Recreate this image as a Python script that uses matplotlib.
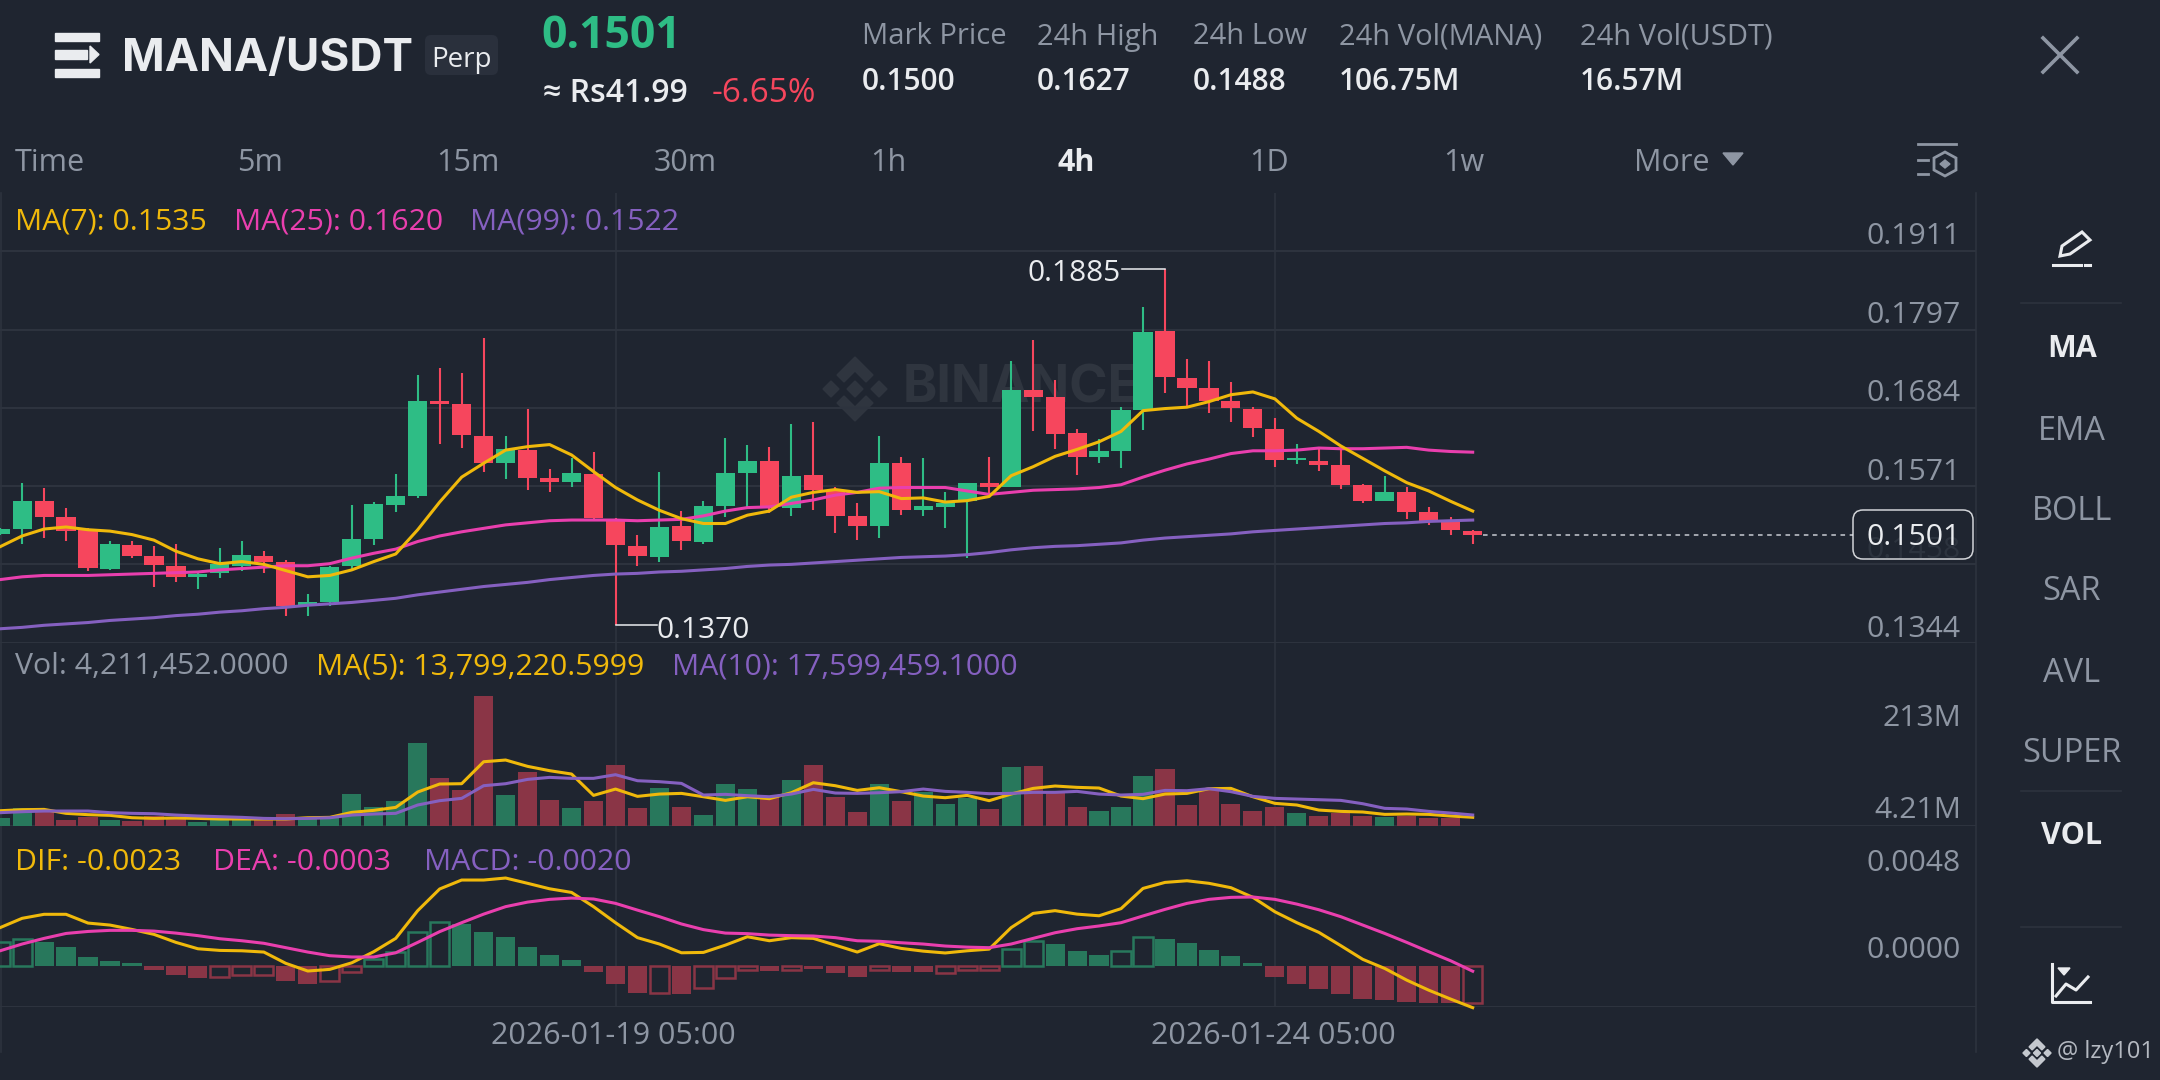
#!/usr/bin/env python3
"""MANA/USDT perp 4h chart screen: candles, volume and MACD panels."""

import matplotlib
matplotlib.use("Agg")
import matplotlib.pyplot as plt
from matplotlib.patches import FancyBboxPatch, Polygon, Rectangle

plt.rcParams["font.family"] = ["Open Sans", "Noto Sans", "DejaVu Sans"]

# ── Data ─────────────────────────────────────────────────────────────────────

opens = [
    .1502, .1509, .1549, .1526, .1508, .1452, .1486, .1470, .1455, .1440, .1446, .1456, .1470, .1462, .1398, .1404, .1455,
    .1495, .1544, .1557, .1694, .1689, .1643, .1604, .1623, .1582, .1577, .1589, .1524, .1485, .1469, .1513, .1491, .1542,
    .1590, .1607, .1540, .1587, .1565, .1528, .1513, .1604, .1536, .1541, .1549, .1575, .1570, .1710, .1699, .1647, .1613,
    .1621, .1681, .1795, .1727, .1712, .1694, .1682, .1653, .1608, .1607, .1602, .1573, .1550, .1562, .1533, .1520, .1506,
]
closes = [
    .1509, .1549, .1526, .1506, .1453, .1487, .1470, .1457, .1440, .1444, .1459, .1472, .1462, .1398, .1404, .1454, .1494,
    .1545, .1557, .1694, .1689, .1645, .1604, .1624, .1583, .1577, .1590, .1525, .1486, .1470, .1512, .1492, .1542, .1590,
    .1607, .1542, .1586, .1565, .1528, .1513, .1605, .1536, .1542, .1547, .1575, .1570, .1710, .1700, .1646, .1613, .1622,
    .1681, .1794, .1728, .1712, .1694, .1684, .1655, .1608, .1611, .1601, .1573, .1549, .1562, .1533, .1520, .1507, .1501,
]
highs = [
    .1510, .1575, .1568, .1539, .1510, .1492, .1492, .1484, .1487, .1445, .1481, .1492, .1477, .1465, .1415, .1456, .1544,
    .1548, .1589, .1732, .1741, .1734, .1785, .1643, .1682, .1595, .1612, .1620, .1525, .1500, .1591, .1535, .1549, .1641,
    .1630, .1627, .1661, .1664, .1570, .1547, .1643, .1613, .1611, .1562, .1576, .1613, .1751, .1782, .1724, .1654, .1639,
    .1685, .1830, .1885, .1755, .1752, .1722, .1685, .1669, .1632, .1628, .1626, .1574, .1585, .1569, .1541, .1526, .1508,
]
lows = [
    .1500, .1488, .1496, .1492, .1448, .1450, .1467, .1426, .1432, .1422, .1439, .1449, .1446, .1384, .1384, .1398, .1452,
    .1486, .1534, .1554, .1632, .1626, .1592, .1581, .1566, .1562, .1570, .1523, .1370, .1456, .1461, .1479, .1488, .1527,
    .1540, .1532, .1528, .1537, .1504, .1493, .1496, .1529, .1528, .1510, .1467, .1556, .1569, .1651, .1625, .1587, .1604,
    .1597, .1652, .1705, .1687, .1677, .1664, .1642, .1599, .1603, .1593, .1567, .1547, .1549, .1524, .1515, .1501, .1487,
]
ma7 = [
    .14835, .1499, .1509, .1512, .1508, .1506, .1501, .1493, .1477, .1466, .1459, .1462, .1458, .1449, .1440, .1442, .1450,
    .1462, .1473, .1508, .1548, .1584, .1604, .1623, .1628, .1631, .1616, .1592, .1569, .1551, .1536, .1524, .1517, .1517,
    .1529, .1535, .1555, .1562, .1566, .1562, .1563, .1553, .1554, .1548, .1550, .1556, .1586, .1599, .1614, .1624, .1635,
    .1650, .1680, .1683, .1685, .1693, .1703, .1707, .1697, .1669, .1650, .1629, .1611, .1593, .1576, .1564, .1549, .1535,
]
ma25 = [
    .1436, .1440, .1442, .1442, .1442, .1443, .1444, .1445, .1446, .1447, .1450, .1452, .1454, .1456, .1456, .1459, .1467,
    .1474, .1480, .1491, .1499, .1505, .1510, .1515, .1518, .1521, .1522, .1522, .1522, .1521, .1522, .1523, .1528, .1535,
    .1540, .1541, .1546, .1551, .1558, .1562, .1568, .1569, .1569, .1569, .1564, .1559, .1562, .1565, .1566, .1567, .1569,
    .1573, .1584, .1594, .1603, .1610, .1618, .1622, .1622, .1623, .1626, .1625, .1625, .1626, .1627, .1623, .1621, .1620,
]
ma99 = [
    .1365, .1367, .1370, .1372, .1374, .1377, .1379, .1381, .1384, .1386, .1389, .1391, .1394, .1396, .1399, .1401, .1403,
    .1406, .1409, .1414, .1418, .1422, .1426, .1429, .1432, .1436, .1439, .1442, .1444, .1445, .1447, .1448, .1450, .1452,
    .1455, .1457, .1458, .1460, .1462, .1464, .1466, .1468, .1469, .1470, .1472, .1475, .1479, .1482, .1484, .1485, .1487,
    .1489, .1493, .1496, .1498, .1500, .1502, .1505, .1507, .1509, .1511, .1513, .1515, .1517, .1518, .1520, .1521, .1522,
]

# volumes in millions; the newest candle has no visible bar
volumes = [
    13.1, 29.6, 23.0, 9.9, 14.8, 9.3, 7.7, 15.9, 13.1, 6.0, 12.0, 12.0, 12.0, 19.2, 13.7, 13.1, 52.6,
    30.1, 41.1, 135.8, 78.9, 58.6, 213.0, 49.8, 88.2, 42.2, 29.0, 41.1, 99.1, 29.6, 61.9, 30.7, 18.1, 69.0,
    60.2, 46.5, 74.5, 99.1, 47.6, 22.5, 68.5, 40.5, 54.8, 36.1, 44.9, 27.4, 96.4, 97.5, 54.2, 30.7, 23.5,
    30.7, 81.0, 92.5, 34.0, 58.6, 35.6, 23.5, 30.7, 20.8, 15.9, 21.4, 15.3, 14.2, 16.4, 13.1, 13.1, 0.0,
]
vol_ma5 = [
    24.6, 26.3, 26.8, 20.3, 18.1, 17.0, 13.1, 12.0, 12.6, 12.0, 11.0, 11.0, 11.0, 11.0, 13.1, 13.7, 21.9,
    25.2, 30.1, 55.3, 68.5, 69.0, 105.1, 107.9, 97.5, 90.4, 84.9, 49.8, 60.2, 48.2, 52.0, 53.1, 47.6, 41.6,
    47.6, 44.4, 54.2, 70.6, 65.7, 58.0, 62.4, 55.9, 48.7, 46.0, 49.8, 41.1, 52.0, 61.3, 65.2, 63.0, 61.9,
    48.7, 44.4, 52.0, 53.1, 60.8, 61.3, 47.6, 36.7, 34.0, 25.7, 23.5, 22.5, 18.6, 19.2, 18.6, 15.9, 13.8,
]
vol_ma10 = [
    21.4, 23.0, 24.1, 24.1, 24.1, 21.4, 20.3, 19.7, 17.5, 15.9, 14.8, 13.7, 12.0, 11.5, 12.0, 13.1, 17.5,
    19.2, 20.3, 34.0, 41.1, 44.9, 65.7, 69.0, 76.1, 79.4, 77.8, 77.8, 83.8, 73.9, 72.3, 69.5, 50.4, 51.5,
    49.3, 47.6, 52.0, 59.7, 53.7, 53.1, 54.2, 55.9, 60.2, 56.4, 54.8, 52.6, 53.1, 54.8, 54.8, 56.4, 52.0,
    50.4, 51.5, 58.0, 57.5, 60.8, 55.9, 48.2, 44.9, 43.8, 42.7, 41.6, 36.1, 28.5, 27.4, 23.5, 20.8, 17.6,
]

macd_hist = [
    .00128, .00146, .00132, .00104, .00048, .00027, .00015, -.00026, -.00051, -.00066, -.00064, -.00051, -.00049,
    -.00084, -.00101, -.00082, -.00037, .00037, .00077, .00187, .00240, .00230, .00185, .00157, .00102, .00059, .00031,
    -.00033, -.00099, -.00150, -.00148, -.00155, -.00124, -.00070, -.00024, -.00031, -.00024, -.00018, -.00038, -.00062,
    -.00024, -.00033, -.00037, -.00042, -.00024, -.00022, .00090, .00134, .00117, .00080, .00057, .00079, .00155, .00146,
    .00123, .00086, .00051, .00015, -.00060, -.00099, -.00126, -.00155, -.00185, -.00188, -.00199, -.00205, -.00207, -.00203,
]
macd_hollow = [0, 1, 10, 11, 12, 15, 16, 17, 18, 19, 20, 30, 32, 33, 34, 36, 40, 43, 44, 45, 46, 47, 51, 52, 67]
dif = [
    .00209, .00260, .00282, .00282, .00234, .00223, .00199, .00172, .00128, .00093, .00084, .00082, .00075, .00013,
    -.00029, -.00020, .00016, .00077, .00150, .00302, .00421, .00470, .00470, .00481, .00452, .00422, .00402, .00324,
    .00236, .00154, .00119, .00071, .00073, .00113, .00159, .00137, .00154, .00150, .00113, .00075, .00121, .00095,
    .00080, .00070, .00082, .00091, .00209, .00287, .00302, .00283, .00274, .00313, .00424, .00457, .00466, .00452,
    .00428, .00375, .00296, .00236, .00183, .00110, .00035, -.00015, -.00079, -.00134, -.00183, -.00230,
]
dea = [
    .00082, .00119, .00150, .00177, .00188, .00194, .00194, .00190, .00179, .00165, .00148, .00137, .00123, .00099,
    .00075, .00055, .00048, .00048, .00071, .00128, .00187, .00236, .00283, .00324, .00349, .00364, .00371, .00366,
    .00342, .00305, .00269, .00229, .00198, .00179, .00176, .00168, .00165, .00163, .00154, .00137, .00134, .00126,
    .00119, .00108, .00102, .00099, .00119, .00150, .00181, .00203, .00218, .00236, .00273, .00309, .00342, .00364,
    .00375, .00377, .00364, .00338, .00307, .00269, .00223, .00177, .00128, .00077, .00027, -.00030,
]

price_ticks = [0.1911, 0.1797, 0.1684, 0.1571, 0.1458, 0.1344]
macd_ticks = [0.0048, 0.0]
date_ticks = {28: "2026-01-19 05:00", 58: "2026-01-24 05:00"}
timeframes = ["5m", "15m", "30m", "1h", "4h", "1D", "1w", "More"]
indicators = ["MA", "EMA", "BOLL", "SAR", "AVL", "SUPER", "VOL"]
stats = [
    ("Mark Price", "0.1500"), ("24h High", "0.1627"), ("24h Low", "0.1488"),
    ("24h Vol(MANA)", "106.75M"), ("24h Vol(USDT)", "16.57M"),
]
last_price = 0.1501

# ── Colours and layout ───────────────────────────────────────────────────────

BG = "#1f2530"
GRID = "#2d333e"
GREEN = "#2ebd85"
RED = "#f6465d"
DIM_GREEN = "#28785c"
DIM_RED = "#8a3546"
YELLOW = "#f0b90b"
PINK = "#e93fae"
PURPLE = "#8560c0"
GREY = "#8e96a3"
WHITE = "#eaecef"
WM = "#2f353f"

W, H = 2160, 1080
CHART_R = 1976
STEP = 21.98
BODY = 0.87
TEXT_DY = 3  # open sans sits a little high when centred

fig = plt.figure(figsize=(W / 100, H / 100), dpi=100, facecolor=BG)


def px_axes(y_top, y_bottom):
    """Axes spanning the chart width between two pixel rows."""
    ax = fig.add_axes([0, 1 - y_bottom / H, CHART_R / W, (y_bottom - y_top) / H])
    ax.set_facecolor("none")
    ax.set_xlim(-0.005, CHART_R / STEP)
    ax.axis("off")
    return ax


# Overlay in image pixels for the app chrome around the chart
ui = fig.add_axes([0, 0, 1, 1], zorder=5)
ui.set_xlim(0, W)
ui.set_ylim(H, 0)
ui.axis("off")
ui.set_facecolor("none")

back = fig.add_axes([0, 0, 1, 1], zorder=-1)
back.set_xlim(0, W)
back.set_ylim(H, 0)
back.axis("off")

ax_price = px_axes(193, 643.3)
ax_vol = px_axes(643.3, 825.7)
ax_macd = px_axes(825.7, 1007.3)
ax_price.set_ylim(0.1344, 0.19943)
ax_vol.set_ylim(0, 299.7)
ax_macd.set_ylim(-0.00228, 0.00768)


def label(x, y, s, color=GREY, size=22, ha="left", weight="normal", ax=ui, family=None):
    return ax.text(x, y + TEXT_DY, s, color=color, fontsize=size, ha=ha, va="center", fontweight=weight, family=family)


def logo(ax, cx, cy, scale, color):
    """Binance mark: centre and side diamonds plus two chevrons."""
    def shape(points):
        return Polygon([(cx + px * scale, cy + py * scale) for px, py in points], color=color)
    ax.add_patch(shape([(0, -8), (8, 0), (0, 8), (-8, 0)]))
    ax.add_patch(shape([(-24, -8), (-16, 0), (-24, 8), (-32, 0)]))
    ax.add_patch(shape([(24, -8), (32, 0), (24, 8), (16, 0)]))
    ax.add_patch(shape([(0, -32), (18, -14), (11, -7), (0, -18), (-11, -7), (-18, -14)]))
    ax.add_patch(shape([(0, 32), (18, 14), (11, 7), (0, 18), (-11, 7), (-18, 14)]))


# ── Grid ─────────────────────────────────────────────────────────────────────

for tick in price_ticks:
    ax_price.axhline(tick, color=GRID, lw=1.5, zorder=1)
ax_vol.axhline(0, color=GRID, lw=1.5, zorder=1)
ax_macd.axhline(-0.00228, color=GRID, lw=1.5, zorder=1)
for idx in date_ticks:
    for ax in (ax_price, ax_vol, ax_macd):
        ax.axvline(idx, color=GRID, lw=1.2, zorder=1)
back.plot([1, 1], [193, 1052], color=GRID, lw=1.2)
back.plot([CHART_R, CHART_R], [193, 1052], color=GRID, lw=1.2)

# Watermark sits under the candles
logo(back, 855, 389, 1, WM)
label(903, 386, "BINANCE", color=WM, size=37.5, weight="bold", ax=back, family="Inter")

# ── Candles ──────────────────────────────────────────────────────────────────

xs = list(range(len(closes)))
for i in xs:
    col = GREEN if closes[i] >= opens[i] else RED
    ax_price.vlines(i, lows[i], highs[i], color=col, lw=1.5, zorder=2)
    bottom = min(opens[i], closes[i])
    ax_price.bar(i, abs(closes[i] - opens[i]), BODY, bottom=bottom, color=col, zorder=3)

ax_price.plot(xs, ma99, color=PURPLE, lw=2.2, zorder=4)
ax_price.plot(xs, ma25, color=PINK, lw=2.2, zorder=4)
ax_price.plot(xs, ma7, color=YELLOW, lw=2.2, zorder=4)

# High / low callouts
hi = highs.index(max(highs))
lo = lows.index(min(lows))
ax_price.plot([hi - 1.95, hi], [max(highs)] * 2, color=WHITE, lw=1.1, zorder=5)
ax_price.plot([lo, lo + 1.9], [min(lows)] * 2, color=WHITE, lw=1.1, zorder=5)
ax_price.annotate(f"{max(highs):.4f}", (hi - 1.95, max(highs)), xytext=(-1, -5), textcoords="offset pixels",
                  color=WHITE, fontsize=21.5, ha="right", va="center", zorder=6)
ax_price.annotate(f"{min(lows):.4f}", (lo + 1.9, min(lows)), xytext=(-1, -5), textcoords="offset pixels",
                  color=WHITE, fontsize=21.5, ha="left", va="center", zorder=6, annotation_clip=False)

# Last price line
ax_price.plot([xs[-1] + 0.45, 84.3], [last_price] * 2, color="#c8ccd2", lw=1.1, ls=(0, (3, 3)), zorder=4)

# ── Volume ───────────────────────────────────────────────────────────────────

for i in xs:
    col = DIM_GREEN if closes[i] >= opens[i] else DIM_RED
    ax_vol.bar(i, volumes[i], BODY, color=col, zorder=2)
ax_vol.plot(xs, vol_ma5, color=YELLOW, lw=2.2, zorder=3)
ax_vol.plot(xs, vol_ma10, color=PURPLE, lw=2.2, zorder=3)

# ── MACD ─────────────────────────────────────────────────────────────────────

for i in xs:
    col = DIM_GREEN if macd_hist[i] >= 0 else DIM_RED
    if i in macd_hollow:
        ax_macd.bar(i, macd_hist[i], BODY, facecolor="none", edgecolor=col, lw=1.8, zorder=2)
    else:
        ax_macd.bar(i, macd_hist[i], BODY, color=col, zorder=2)
ax_macd.plot(xs, dif, color=YELLOW, lw=2.2, zorder=3, clip_on=False)
ax_macd.plot(xs, dea, color=PINK, lw=2.2, zorder=3)

# ── Legends over the panels ──────────────────────────────────────────────────

label(15, 219, f"MA(7): {ma7[-1]:.4f}", YELLOW, size=21.8)
label(234, 219, f"MA(25): {ma25[-1]:.4f}", PINK, size=21.8)
label(470, 219, f"MA(99): {ma99[-1]:.4f}", PURPLE, size=21.8)
label(15, 664, "Vol: 4,211,452.0000", size=21.8)
label(316, 664, "MA(5): 13,799,220.5999", YELLOW, size=21.8)
label(672, 664, "MA(10): 17,599,459.1000", PURPLE, size=21.8)
label(15, 860, f"DIF: {dif[-1]:.4f}", YELLOW, size=21.8)
label(213, 860, f"DEA: {dea[-1]:.4f}", PINK, size=21.8)
label(424, 860, f"MACD: {macd_hist[-1]:.4f}", PURPLE, size=21.8)

# ── Axis labels ──────────────────────────────────────────────────────────────

for tick in price_ticks:
    ax_price.annotate(f"{tick:.4f}", (1, tick), xycoords=ax_price.get_yaxis_transform(), xytext=(-15, 14),
                      textcoords="offset pixels", color=GREY, fontsize=21.7, ha="right", va="center", zorder=6)
for tick in macd_ticks:
    ax_macd.annotate(f"{tick:.4f}", (1, tick), xycoords=ax_macd.get_yaxis_transform(), xytext=(-15, 15),
                     textcoords="offset pixels", color=GREY, fontsize=21.7, ha="right", va="center", zorder=6)
label(1961, 715.6, "213M", ha="right", size=21.7)
label(1961, 807.5, "4.21M", ha="right", size=21.7)
for idx, name in date_ticks.items():
    ax_macd.annotate(name, (idx, 0), xycoords=ax_macd.get_xaxis_transform(), xytext=(-2, -29),
                     textcoords="offset pixels", color=GREY, fontsize=22, ha="center", va="center",
                     annotation_clip=False)

ui.add_patch(FancyBboxPatch((1856, 513), 114, 43, boxstyle="round,pad=3,rounding_size=10",
                            facecolor=BG, edgecolor=WHITE, lw=1.1, alpha=0.88))
label(1961, 534.6, f"{last_price:.4f}", WHITE, ha="right", size=21.7)

# ── Header ───────────────────────────────────────────────────────────────────

for y0, y1, x1 in [(33, 41, 99), (50, 59, 87), (69, 77, 99)]:
    ui.add_patch(Rectangle((55, y0), x1 - 55, y1 - y0, color=WHITE))
ui.add_patch(Polygon([(90, 46), (99, 54.5), (90, 63)], color=WHITE))
label(122, 56, "MANA/USDT", WHITE, size=33, weight="bold", family="Inter")
ui.add_patch(FancyBboxPatch((429, 39), 65, 32, boxstyle="round,pad=4,rounding_size=6", facecolor="#2a303c", edgecolor="none"))
label(461, 57, "Perp", WHITE, size=20, ha="center")
label(541, 33, f"{last_price:.4f}", GREEN, size=32, weight="bold")
label(543, 90, "≈ Rs41.99", WHITE, size=23, weight="semibold")
label(712, 90, "-6.65%", RED, size=24)

stat_x = [862, 1037, 1193, 1339, 1580]
for x, (name, value) in zip(stat_x, stats):
    label(x, 34, name, GREY, size=21)
    label(x, 78.5, value, WHITE, size=21.5, weight="semibold")

ui.plot([2043, 2077], [38, 72], color=GREY, lw=2.6)
ui.plot([2043, 2077], [72, 38], color=GREY, lw=2.6)

# ── Timeframe row ────────────────────────────────────────────────────────────

label(15, 160, "Time", GREY, size=22)
tf_x = [260, 468, 685, 888, 1076, 1269, 1464, 1672]
for x, name in zip(tf_x, timeframes):
    active = name == "4h"
    label(x, 160, name, WHITE if active else GREY, size=22, ha="center", weight="bold" if active else "normal")
ui.add_patch(Polygon([(1723, 153), (1743, 153), (1733, 165)], color=GREY))

# settings icon
ui.plot([1918, 1956], [144, 144], color=GREY, lw=2)
ui.plot([1918, 1928], [160, 160], color=GREY, lw=2)
ui.plot([1918, 1928], [174, 174], color=GREY, lw=2)
ui.add_patch(Polygon([(1945, 152), (1956, 158), (1956, 170), (1945, 176), (1934, 170), (1934, 158)], fill=False, edgecolor=GREY, lw=2))
ui.add_patch(Polygon([(1945, 160), (1950, 164), (1945, 168), (1940, 164)], color=GREY))

# ── Right sidebar ────────────────────────────────────────────────────────────

ind_y = [345.6, 428, 508.8, 589, 670, 751, 833]
for y, name in zip(ind_y, indicators):
    active = name in ("MA", "VOL")
    label(2071.7, y, name, WHITE if active else GREY, size=22 if active else 23.5, ha="center", weight="bold" if active else "normal")
for y in (303, 791, 927):
    ui.plot([2021, 2121], [y, y], color=GRID, lw=1.2)

# pencil icon
ui.add_patch(Polygon([(2060, 256), (2062, 246), (2082, 232), (2090, 240), (2070, 254)], fill=False, edgecolor=WHITE, lw=2.2))
ui.plot([2053, 2081], [265, 265], color=WHITE, lw=2.2)
ui.plot([2085, 2090], [265, 265], color=WHITE, lw=2.2)

# chart icon
ui.plot([2052, 2052, 2090], [964, 1002, 1002], color=WHITE, lw=2.2)
ui.plot([2056, 2066, 2076, 2088], [996, 984, 990, 977], color=WHITE, lw=2.2)
ui.add_patch(Polygon([(2058, 968), (2070, 968), (2064, 975)], color=WHITE))

# user watermark
logo(ui, 2037, 1053, 0.44, "#c4c8ce")
label(2057, 1049, "@ lzy101", "#b4b9c1", size=17)

fig.savefig("out.png", dpi=100, facecolor=BG)
